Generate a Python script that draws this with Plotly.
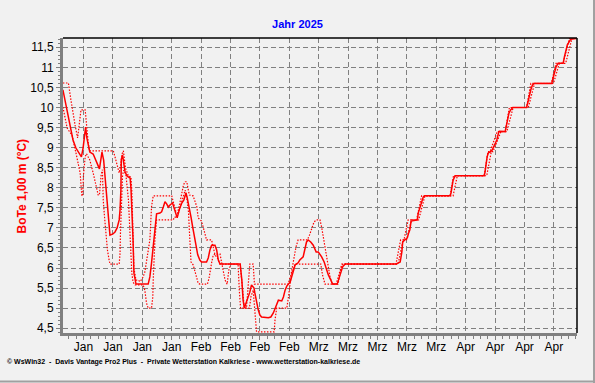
import plotly.graph_objects as go

# x values: days since 1 Jan 2025 (0 = 1 Jan 00:00)
mean_day = [0.1,0.6,1.1,1.8,2.5,3.2,4.2,4.5,4.9,5.2,5.5,5.8,6.2,6.5,7.3,8.0,8.6,8.8,9.2,9.4,9.8,10.1,10.4,10.7,11.1,11.3,12.0,12.5,13.0,13.5,13.7,13.9,14.0,14.3,14.6,14.9,15.4,16.1,16.3,16.5,16.8,17.0,17.5,20.4,20.8,21.2,21.6,22.0,22.3,22.4,23.2,23.6,24.0,24.4,24.8,25.2,25.6,26.2,26.5,27.0,27.3,27.8,28.4,28.9,29.4,29.7,30.2,30.6,31.0,31.4,31.8,32.2,32.7,33.1,34.3,34.7,35.1,35.5,36.3,36.7,37.1,37.5,42.3,42.5,42.7,43.0,43.3,43.7,44.2,44.6,45.0,45.6,45.8,46.2,46.6,47.0,47.4,49.0,49.6,50.2,50.6,51.0,51.4,52.2,52.6,53.0,53.4,54.2,54.6,55.0,55.4,56.1,56.5,57.3,57.7,58.1,58.5,59.1,59.7,60.4,60.9,61.7,62.3,62.7,63.3,63.9,64.3,65.4,65.8,66.2,66.7,67.3,79.4,80.0,80.4,80.8,81.0,81.5,82.1,82.4,82.7,83.0,84.5,84.7,85.1,85.5,85.9,86.3,92.3,92.5,92.8,93.0,93.5,100.4,100.6,100.8,101.1,101.4,101.8,102.3,102.6,103.0,103.4,103.8,104.0,105.4,105.6,105.9,106.3,106.7,107.2,110.5,110.8,111.1,111.5,111.9,112.3,116.5,116.7,117.1,117.5,118.0,119.2,119.5,119.8,120.2,120.6,121.0,122.3]
mean_val = [10.44,10.19,9.89,9.54,9.19,8.99,8.82,8.77,8.99,9.36,9.51,9.24,9.02,8.89,8.84,8.69,8.52,8.47,8.74,8.89,8.69,8.32,7.94,7.57,7.15,6.82,6.85,6.9,7.0,7.2,7.45,7.94,8.7,8.82,8.6,8.39,8.29,8.24,7.99,7.57,6.7,5.88,5.6,5.6,5.78,6.13,6.53,6.95,7.2,7.35,7.37,7.4,7.52,7.65,7.6,7.52,7.57,7.62,7.52,7.37,7.25,7.45,7.62,7.7,7.87,7.75,7.52,7.27,7.02,6.77,6.53,6.33,6.2,6.15,6.15,6.25,6.45,6.57,6.57,6.45,6.2,6.1,6.1,5.95,5.7,5.2,5.0,5.13,5.28,5.4,5.58,5.5,5.38,5.13,4.96,4.83,4.78,4.76,4.78,4.88,5.0,5.13,5.2,5.18,5.28,5.45,5.55,5.65,5.78,5.95,6.08,6.13,6.2,6.28,6.45,6.65,6.7,6.65,6.57,6.4,6.4,6.28,6.15,6.0,5.83,5.7,5.6,5.6,5.75,5.9,6.03,6.1,6.1,6.13,6.15,6.4,6.65,6.7,6.75,6.87,6.95,7.17,7.2,7.37,7.52,7.65,7.77,7.8,7.8,7.87,8.02,8.19,8.3,8.3,8.39,8.62,8.77,8.87,8.89,8.94,9.02,9.12,9.19,9.36,9.41,9.4,9.51,9.69,9.86,9.94,10.0,10.0,10.11,10.26,10.44,10.56,10.6,10.6,10.69,10.86,11.01,11.1,11.1,11.26,11.43,11.56,11.63,11.7,11.72]

max_day = [0.1,1.4,2.0,2.4,3.0,3.6,3.9,4.4,5.4,5.8,6.1,6.4,12.1,12.5,12.9,13.3,13.5,13.9,14.2,14.5,14.8,15.0,15.7,16.3,16.5,16.8,17.0,17.5,18.0,18.5,19.2,19.6,20.0,20.4,20.8,21.2,21.6,26.0,26.6,27.0,27.4,27.6,28.0,28.4,28.8,29.2,29.6,29.8,30.2,31.1,32.0,32.3,33.1,33.5,33.9,34.3,35.5,35.9,36.3,36.9,37.3,37.5,42.3,42.9,43.3,43.8,44.3,44.6,45.4,45.7,46.1,53.7,54.4,55.0,55.6,56.1,58.3,58.8,59.3,59.9,60.5,61.3,61.7,62.1,62.5,62.9,63.3,63.7,64.2,65.1,65.6,66.1,66.5,79.4,80.5,81.3,82.3,84.3,85.5,92.3,93.1,100.4,101.3,101.8,103.5,105.4,106.4,110.5,111.5,116.4,117.5,119.2,120.7,122.3]
max_val = [10.61,10.61,10.19,9.89,9.56,9.24,9.56,9.94,9.94,9.44,9.15,8.92,8.92,8.77,8.62,8.44,8.37,8.6,8.85,8.92,8.72,8.49,8.29,8.27,7.94,6.7,6.0,5.7,5.7,5.66,5.78,5.9,6.16,6.41,6.7,7.53,7.8,7.8,7.57,7.4,7.37,7.45,7.65,7.86,8.07,8.15,8.15,8.03,7.82,7.8,7.52,7.25,7.17,7.02,6.87,6.7,6.7,6.53,6.33,6.25,6.15,6.1,6.1,5.4,5.0,5.0,5.83,6.1,6.1,5.6,5.6,5.6,5.83,6.2,6.53,6.7,6.7,6.82,7.0,7.15,7.2,7.2,7.02,6.77,6.53,6.28,5.95,5.78,5.6,5.6,5.75,5.95,6.1,6.1,6.7,6.7,7.2,7.2,7.8,7.8,8.3,8.3,8.9,8.9,9.4,9.4,10.0,10.0,10.6,10.6,11.1,11.1,11.72,11.72]

min_day = [0.1,0.6,1.1,1.4,2.3,2.6,3.0,3.2,3.7,4.2,4.6,4.8,5.0,5.4,5.7,6.1,6.5,7.3,8.1,8.5,8.8,9.2,9.5,9.7,10.0,10.7,11.1,11.3,13.5,13.7,13.8,14.1,14.3,14.6,15.1,15.7,16.1,16.5,16.8,17.3,19.2,19.6,20.0,20.4,21.2,21.5,21.6,22.0,22.4,26.4,26.6,27.2,27.6,28.0,28.4,28.8,29.2,29.6,30.0,30.2,30.4,30.6,31.1,31.5,31.9,32.3,32.7,34.5,34.9,35.5,35.9,37.5,38.0,38.7,39.2,39.6,40.1,41.8,42.1,42.4,44.5,44.9,45.4,45.8,46.2,50.4,50.6,51.0,53.4,53.8,54.2,54.4,54.8,55.4,61.5,61.9,62.5,65.6,66.0,66.3,66.8,79.9,81.1,81.9,83.1,84.8,86.3,93.0,94.0,101.0,102.1,102.5,104.4,105.8,107.3,110.9,112.4,116.9,118.3,119.8,121.3,122.3]
min_val = [10.01,9.74,9.49,9.44,9.3,9.15,9.0,8.87,8.62,8.37,7.8,7.8,8.32,8.77,8.85,8.77,8.69,8.37,8.02,7.82,7.82,8.32,8.45,7.7,7.28,6.45,6.2,6.1,6.1,6.37,6.87,7.7,8.32,8.44,8.32,7.7,6.7,5.88,5.65,5.58,5.58,5.45,5.13,5.0,5.0,5.28,5.7,6.7,7.2,7.2,7.27,7.27,7.37,7.5,7.65,7.82,7.94,7.75,7.4,6.95,6.53,6.15,6.08,5.95,5.78,5.62,5.6,5.6,5.75,6.13,6.33,6.35,6.08,5.7,5.6,5.95,6.1,6.1,5.45,5.0,5.0,5.3,5.45,4.96,4.41,4.41,4.71,5.0,5.0,5.28,5.6,5.78,5.95,6.1,6.1,5.83,5.6,5.6,5.83,6.0,6.1,6.1,6.7,6.7,7.2,7.2,7.8,7.8,8.3,8.3,8.9,8.9,9.4,9.4,10.0,10.0,10.6,10.6,11.1,11.1,11.72,11.72]

assert len(mean_day) == len(mean_val), (len(mean_day), len(mean_val))
assert len(max_day) == len(max_val), (len(max_day), len(max_val))
assert len(min_day) == len(min_val), (len(min_day), len(min_val))

tick_days = [5, 12, 19, 26, 33, 40, 47, 54, 61, 68, 75, 82, 89, 96, 103, 110, 117]
tick_labels = ["Jan"] * 4 + ["Feb"] * 4 + ["Mrz"] * 5 + ["Apr"] * 4
y_ticks = [4.5, 5, 5.5, 6, 6.5, 7, 7.5, 8, 8.5, 9, 9.5, 10, 10.5, 11, 11.5]
y_labels = ["4,5", "5", "5,5", "6", "6,5", "7", "7,5", "8", "8,5", "9", "9,5", "10", "10,5", "11", "11,5"]

RED = "#FF0000"
GRID = "#808080"
BG = "#F1F1F1"

fig = go.Figure()
for d, v in [(max_day, max_val), (min_day, min_val)]:
    fig.add_trace(go.Scatter(x=d, y=v, mode="lines",
                             line=dict(color=RED, width=1.2, dash="1.5px,1.5px"),
                             hoverinfo="skip"))
fig.add_trace(go.Scatter(x=mean_day, y=mean_val, mode="lines",
                         line=dict(color=RED, width=1.5), hoverinfo="skip"))

fig.update_layout(
    width=595, height=383,
    margin=dict(l=63, r=18, t=38, b=50),
    paper_bgcolor=BG, plot_bgcolor=BG,
    showlegend=False,
    font=dict(family="Liberation Sans, Arial, sans-serif", size=11, color="black"),
    title=dict(text="<b>Jahr 2025</b>", x=0.5, xref="container", xanchor="center",
               y=1 - 24 / 383, yref="container", yanchor="middle",
               font=dict(size=11, color="#0000FF")),
)

fig.update_xaxes(
    range=[0.12, 122.5], tickmode="array", tickvals=tick_days, ticktext=tick_labels,
    showgrid=True, gridcolor=GRID, griddash="5px,3px", gridwidth=1,
    showline=True, linecolor=GRID, linewidth=3,
    ticks="outside", ticklen=4, tickcolor=GRID, tickwidth=1,
    minor=dict(tick0=5, dtick=1.75, ticks="outside", ticklen=3, tickcolor=GRID, showgrid=False),
    zeroline=False, tickfont=dict(size=12), ticklabelstandoff=-3,
)
fig.update_yaxes(
    range=[4.382, 11.731], tickmode="array", tickvals=y_ticks, ticktext=y_labels,
    showgrid=True, gridcolor=GRID, griddash="5px,3px", gridwidth=1,
    showline=True, linecolor=GRID, linewidth=3,
    ticks="outside", ticklen=4, tickcolor=GRID, tickwidth=1,
    minor=dict(tick0=4.5, dtick=0.1, ticks="outside", ticklen=2, tickcolor=GRID, showgrid=False),
    zeroline=False, tickfont=dict(size=12),
)

# top/right black frame of plot area, outer panel edges
fig.add_shape(type="line", xref="paper", yref="paper", x0=0, x1=1, y0=1, y1=1,
              line=dict(color="black", width=1.5))
fig.add_shape(type="line", xref="paper", yref="paper", x0=1, x1=1, y0=0, y1=1,
              line=dict(color="black", width=1.5))
fig.add_shape(type="line", xref="paper", yref="paper", x0=1.0331, x1=1.0331, y0=-0.17, y1=1.13,
              line=dict(color="#A0A0A0", width=2))
fig.add_shape(type="line", xref="paper", yref="paper", x0=-0.13, x1=1.0331, y0=-0.1644, y1=-0.1644,
              line=dict(color="#A0A0A0", width=2))

fig.add_annotation(text="<b>BoTe 1,00 m (°C)</b>", xref="paper", yref="paper",
                   x=-0.0798, y=0.5, textangle=-90, showarrow=False,
                   xanchor="center", yanchor="middle",
                   font=dict(size=12, color=RED))
fig.add_annotation(text="<b>© WsWin32  -  Davis Vantage Pro2 Plus  -  Private Wetterstation Kalkriese - www.wetterstation-kalkriese.de</b>",
                   xref="paper", yref="paper", x=-0.1128, y=-0.0983,
                   xanchor="left", yanchor="middle", showarrow=False,
                   font=dict(size=7, color="black"))

fig.write_html("out.html", config={"displayModeBar": False},
               post_script="document.body.style.margin='0px';")
